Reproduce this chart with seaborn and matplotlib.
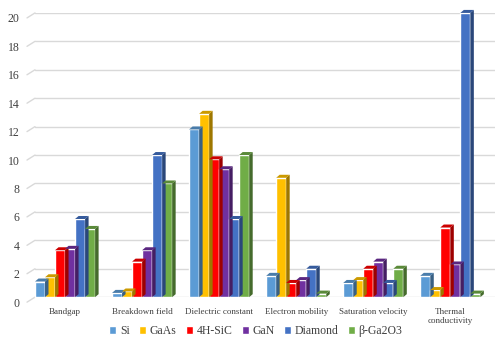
import numpy as np
import pandas as pd
import matplotlib
matplotlib.use("Agg")
import matplotlib.pyplot as plt
from matplotlib.patches import Polygon
from matplotlib.colors import to_rgb
from matplotlib.transforms import ScaledTranslation
import seaborn as sns

# Données
properties = ["Bandgap", "Breakdown field", "Dielectric constant",
              "Electron mobility", "Saturation velocity", "Thermal\nconductivity"]
materials = ["Si", "GaAs", "4H-SiC", "GaN", "Diamond", "β-Ga2O3"]

si = [1.1, 0.3, 11.8, 1.5, 1.0, 1.5]
gaas = [1.4, 0.4, 12.9, 8.4, 1.2, 0.5]
sic = [3.3, 2.5, 9.7, 1.0, 2.0, 4.9]
gan = [3.4, 3.3, 9.0, 1.2, 2.5, 2.3]
diamond = [5.5, 10.0, 5.5, 2.0, 1.0, 20.0]
ga2o3 = [4.8, 8.0, 10.0, 0.25, 2.0, 0.25]

colors = ["#5B9BD5", "#FFC000", "#FF0000", "#7030A0", "#4472C4", "#70AD47"]

series = [si, gaas, sic, gan, diamond, ga2o3]
rows = []
for mat, vals in zip(materials, series):
    for prop, v in zip(properties, vals):
        rows.append({"Propriété": prop, "Valeur": v, "Matériau": mat})
df = pd.DataFrame(rows)

sns.set_theme(style="white")
plt.rcParams["font.family"] = ["Liberation Serif", "DejaVu Serif"]

fig = plt.figure(figsize=(5, 3.4), dpi=100)
ax = fig.add_axes([0.07, 0.126, 0.92, 0.836])

sns.barplot(data=df, x="Propriété", y="Valeur", hue="Matériau",
            palette=colors, saturation=1, width=0.78, ax=ax, zorder=3)

ax.set_xlim(-0.39, 5.58)
ax.set_ylim(0, 20)
ax.set_yticks(range(0, 21, 2))
ax.set_xlabel("")
ax.set_ylabel("")
for s in ax.spines.values():
    s.set_visible(False)
ax.grid(axis="y", color="#D9D9D9", linewidth=1, zorder=0)
ax.tick_params(axis="y", length=0, pad=11, labelsize=8.5, labelcolor="#404040")
ax.tick_params(axis="x", length=0, pad=8, labelsize=6.5, labelcolor="#404040")

# étiquettes de l'axe y décalées vers le bas (perspective)
for lab in ax.get_yticklabels():
    lab.set_transform(lab.get_transform() + ScaledTranslation(0, -0.05, fig.dpi_scale_trans))

# pixels -> unités de données
ax_w = 0.92 * 500
ax_h = 0.836 * 340
ux = (5.58 + 0.39) / ax_w
uy = 20 / ax_h

# petits traits de perspective à gauche du quadrillage
for t in range(0, 21, 2):
    ax.plot([-0.39 - 8 * ux, -0.39], [t - 5 * uy, t], color="#D9D9D9",
            lw=1, clip_on=False, zorder=0)

# effet 3D : faces latérales et dessus
dx, dy = 3.5 * ux, 3 * uy
for bar in list(ax.patches):
    x0 = bar.get_x()
    w = bar.get_width()
    h = bar.get_height()
    if w == 0:
        continue
    bar.set_clip_on(False)
    c = np.array(to_rgb(bar.get_facecolor()))
    side = Polygon([(x0 + w, 0), (x0 + w + dx, dy), (x0 + w + dx, h + dy), (x0 + w, h)],
                   closed=True, facecolor=c * 0.62, edgecolor="none", zorder=3, clip_on=False)
    top = Polygon([(x0, h), (x0 + dx, h + dy), (x0 + w + dx, h + dy), (x0 + w, h)],
                  closed=True, facecolor=c * 0.8, edgecolor="none", zorder=3, clip_on=False)
    ax.add_patch(side)
    ax.add_patch(top)

ax.legend(loc="center", bbox_to_anchor=(0.48, -0.12), ncol=6, frameon=False,
          fontsize=8.5, handlelength=0.6, handleheight=0.6, handletextpad=0.3,
          columnspacing=0.8, labelcolor="#404040")

plt.savefig("out.png", dpi=100)
